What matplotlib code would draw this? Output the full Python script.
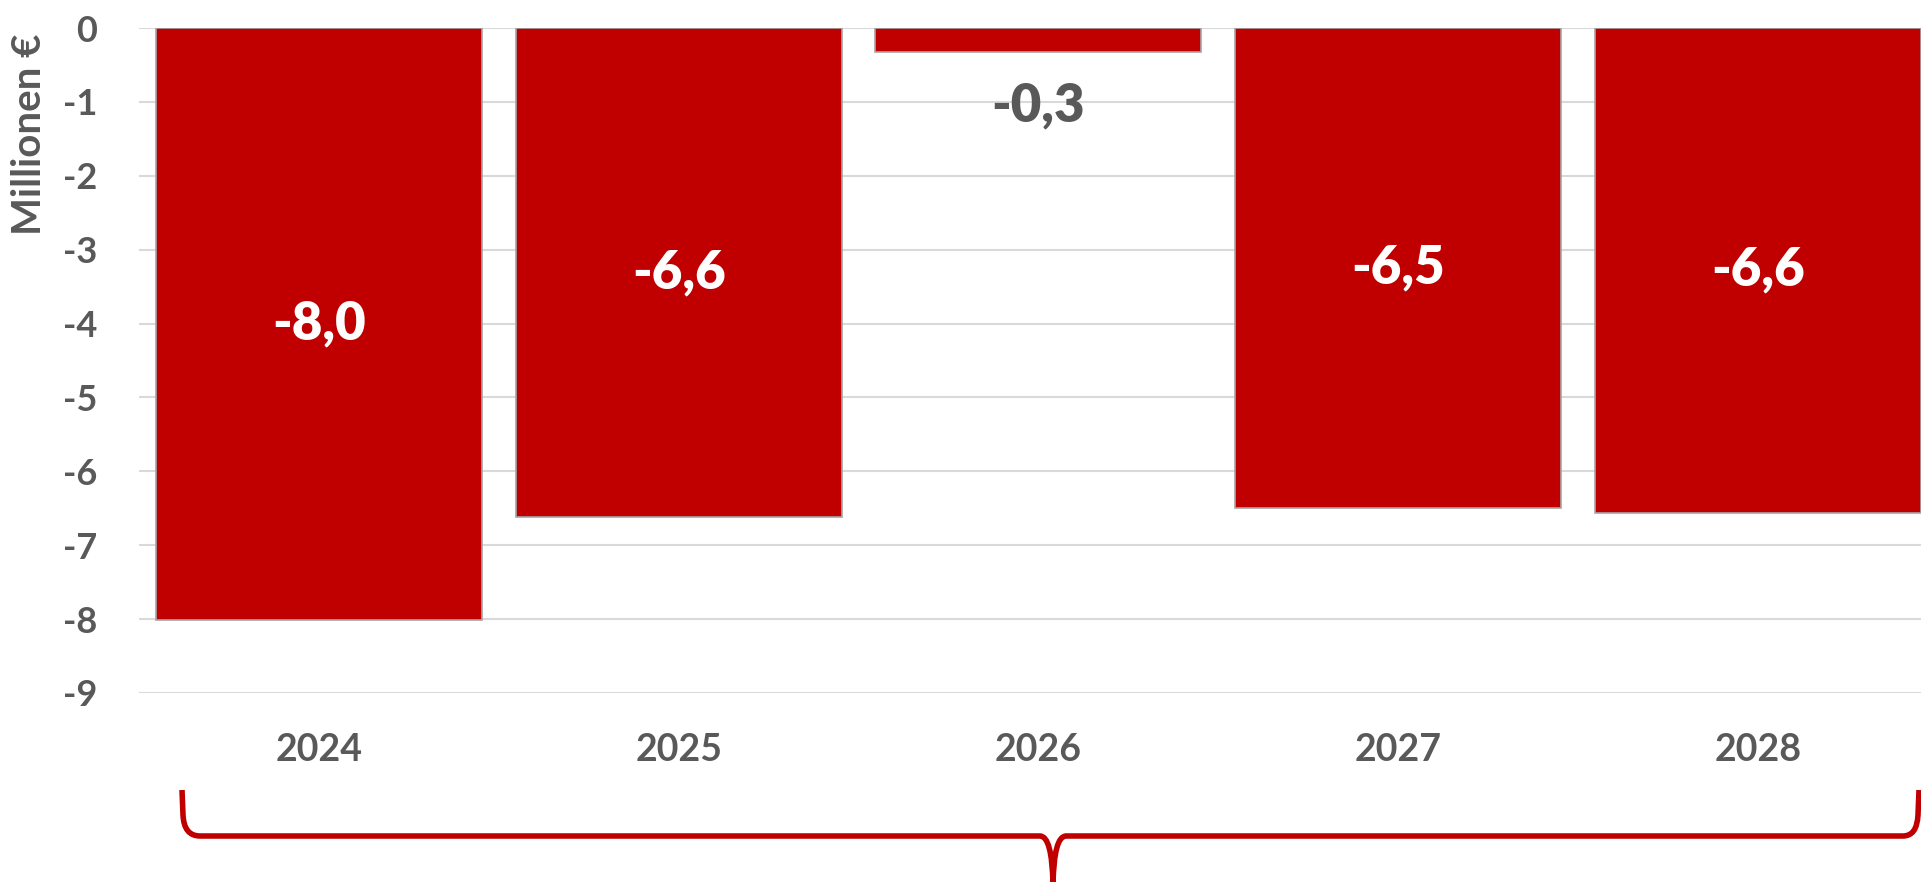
import matplotlib
matplotlib.use("Agg")
import matplotlib.pyplot as plt
from matplotlib.path import Path
from matplotlib.patches import PathPatch

# Daten
jahre = ["2024", "2025", "2026", "2027", "2028"]
werte = [-8.01, -6.62, -0.33, -6.49, -6.56]
y_ticks = [0, -1, -2, -3, -4, -5, -6, -7, -8, -9]

rot = "#C00000"
grau = "#595959"

plt.rcParams["font.family"] = ["Lato", "DejaVu Sans"]
plt.rcParams["font.weight"] = "bold"

fig = plt.figure(figsize=(19.21, 8.82), dpi=100)
ax = fig.add_axes([139 / 1921, 1 - 693 / 882, 1 - 139 / 1921, (693 - 28) / 882])

x = list(range(len(jahre)))
bars = ax.bar(x, werte, width=0.906, color=rot, edgecolor="#a6a6a6", linewidth=1.2, zorder=3)

ax.set_xlim(-0.5, 4.453)
ax.set_ylim(-9, 0)
ax.set_yticks(y_ticks)
ax.set_yticklabels([str(t) for t in y_ticks])
ax.set_xticks(x)
ax.set_xticklabels(jahre)
ax.tick_params(axis="both", length=0, labelsize=26, labelcolor=grau)
ax.tick_params(axis="x", labelsize=27, pad=29)
ax.tick_params(axis="y", pad=30)
ax.grid(axis="y", color="#d9d9d9", linewidth=1.5, zorder=0)
ax.set_axisbelow(True)
for s in ax.spines.values():
    s.set_visible(False)

# Datenbeschriftungen
for xi, v in zip(x, werte):
    txt = f"{v:.1f}".replace(".", ",")
    if abs(v) > 2:
        ax.text(xi, v / 2, txt, ha="center", va="center", fontsize=38,
                color="white", fontweight="heavy", zorder=4)
    else:
        ax.text(xi, v - 0.72, txt, ha="center", va="center", fontsize=38,
                color=grau, fontweight="heavy", zorder=4)

fig.text(30 / 1921, 1 - 134 / 882, "Millionen €", rotation=90, ha="center", va="center",
         fontsize=29, color=grau, fontweight="bold")

# Geschweifte Klammer unten
ov = fig.add_axes([0, 0, 1, 1], facecolor="none")
ov.set_xlim(0, 1921)
ov.set_ylim(882, 0)
ov.axis("off")
verts = [
    (182, 790), (183, 815), (184, 836), (200, 836),
    (1040, 836), (1052, 836), (1053, 884),
    (1054, 836), (1066, 836),
    (1903, 836), (1917, 836), (1918, 815), (1919, 790),
]
codes = [
    Path.MOVETO, Path.LINETO, Path.CURVE3, Path.CURVE3,
    Path.LINETO, Path.CURVE3, Path.CURVE3,
    Path.CURVE3, Path.CURVE3,
    Path.LINETO, Path.CURVE3, Path.CURVE3, Path.LINETO,
]
ov.add_patch(PathPatch(Path(verts, codes), facecolor="none", edgecolor=rot,
                       linewidth=4, capstyle="butt", joinstyle="round"))

fig.savefig("out.png", dpi=100)
